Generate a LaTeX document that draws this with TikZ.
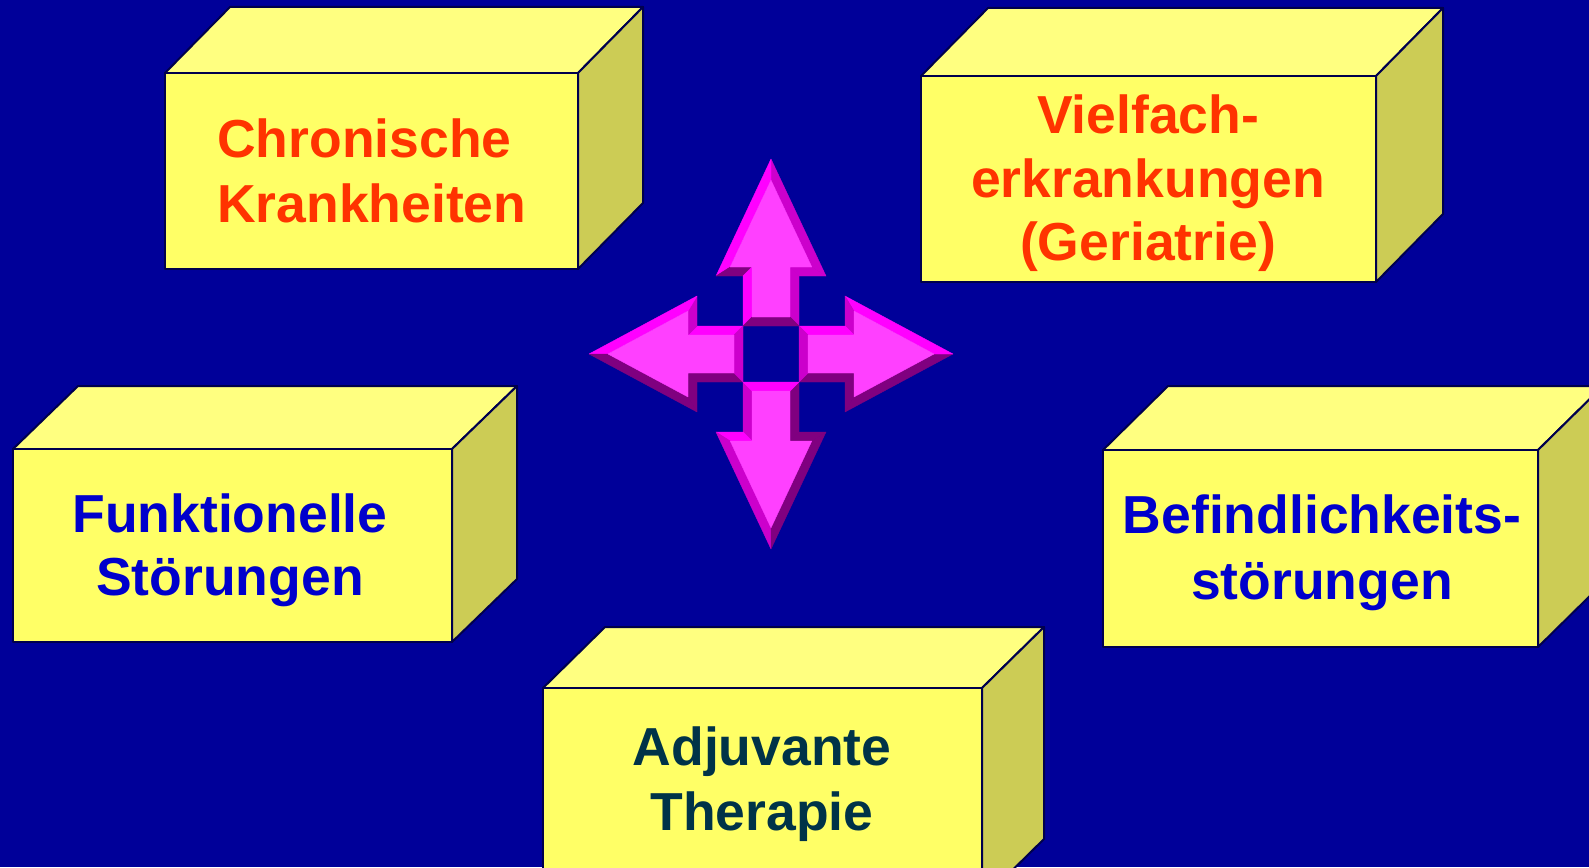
\documentclass[tikz,border=0pt]{standalone}
\usepackage{fontspec}
\setmainfont{Liberation Sans}
\definecolor{bg}{RGB}{0,0,153}
\definecolor{frontf}{RGB}{255,255,102}
\definecolor{topf}{RGB}{255,255,128}
\definecolor{sidef}{RGB}{204,204,85}
\definecolor{edgec}{RGB}{0,0,77}
\definecolor{redt}{RGB}{255,51,0}
\definecolor{bluet}{RGB}{0,0,204}
\definecolor{darkt}{RGB}{0,51,72}
\definecolor{mface}{RGB}{255,64,255}
\definecolor{mbright}{RGB}{255,0,255}
\definecolor{mmed}{RGB}{204,0,204}
\definecolor{mdark}{RGB}{128,0,128}
\tikzset{
  boxline/.style={draw=edgec, line width=2pt, line join=round},
  lbl/.style={font=\fontsize{53.5}{64}\selectfont\bfseries, anchor=base, inner sep=0pt},
  bev/.style={fill=#1, draw=#1, line width=0.4pt, line join=round}
}
% cuboid: left, top, right, bottom (pixel, y down), depth dx, dy
\newcommand\cuboid[6]{%
  \filldraw[boxline, fill=topf] (#1,-#2) -- ({#1+#5},{-#2+#6}) -- ({#3+#5},{-#2+#6}) -- (#3,-#2) -- cycle;
  \filldraw[boxline, fill=sidef] (#3,-#2) -- ({#3+#5},{-#2+#6}) -- ({#3+#5},{-#4+#6}) -- (#3,-#4) -- cycle;
  \filldraw[boxline, fill=frontf] (#1,-#2) rectangle (#3,-#4);
}
\def\aS{28}\def\aSb{19}\def\aSB{37}
\newcommand\magarrow[8]{%
  \begin{scope}[shift={(771,-354)}, rotate=#1]
    \filldraw[bev=#2] (\aS,-\aS) -- (\aHB,-\aS) -- (\aHBb,-\aSb) -- (\aSB,-\aSb) -- cycle;
    \filldraw[bev=#3] (\aHB,-\aS) -- (\aHB,-\aW) -- (\aHBb,-\aQV) -- (\aHBb,-\aSb) -- cycle;
    \filldraw[bev=#4] (\aHB,-\aW) -- (\aT,0) -- (\aQU,0) -- (\aHBb,-\aQV) -- cycle;
    \filldraw[bev=#5] (\aT,0) -- (\aHB,\aW) -- (\aHBb,\aQV) -- (\aQU,0) -- cycle;
    \filldraw[bev=#6] (\aHB,\aW) -- (\aHB,\aS) -- (\aHBb,\aSb) -- (\aHBb,\aQV) -- cycle;
    \filldraw[bev=#7] (\aHB,\aS) -- (\aS,\aS) -- (\aSB,\aSb) -- (\aHBb,\aSb) -- cycle;
    \filldraw[bev=#8] (\aS,\aS) -- (\aS,-\aS) -- (\aSB,-\aSb) -- (\aSB,\aSb) -- cycle;
    \filldraw[bev=mface] (\aSB,-\aSb) -- (\aHBb,-\aSb) -- (\aHBb,-\aQV) -- (\aQU,0) -- (\aHBb,\aQV) -- (\aHBb,\aSb) -- (\aSB,\aSb) -- cycle;
  \end{scope}}
\begin{document}
\begin{tikzpicture}[x=1pt,y=1pt]
\useasboundingbox (0,0) rectangle (1589,-867);
\clip (0,0) rectangle (1589,-867);
\fill[bg] (0,0) rectangle (1589,-867);

% boxes
\cuboid{165}{73}{578}{269}{65}{66}
\cuboid{921}{76}{1376}{282}{67}{68}
\cuboid{13}{449}{452}{642}{65}{63}
\cuboid{1103}{450}{1538}{647}{65}{64}
\cuboid{543}{688}{982}{900}{62}{61}

% labels
\node[lbl, text=redt, anchor=base west] (b1a) at (217,-157) {Chronische};
\node[lbl, text=redt, anchor=base west] (b1b) at (217,-222) {Krankheiten};
\node[lbl, text=redt] (b2a) at (1148,-133) {Vielfach-};
\node[lbl, text=redt] (b2b) at (1148,-197) {erkrankungen};
\node[lbl, text=redt] (b2c) at (1148,-260) {(Geriatrie)};
\node[lbl, text=bluet] (b3a) at (230,-532) {Funktionelle};
\node[lbl, text=bluet] (b3b) at (230,-595) {Störungen};
\node[lbl, text=bluet] (b4a) at (1322,-533) {Befindlichkeits-};
\node[lbl, text=bluet] (b4b) at (1322,-599) {störungen};
\node[lbl, text=darkt] (b5a) at (762,-765) {Adjuvante};
\node[lbl, text=darkt] (b5b) at (762,-830) {Therapie};

% four-way arrow
\def\aHB{78}\def\aHBb{87}\def\aT{195}\def\aW{55}\def\aQV{40.8}\def\aQU{173.8}
\magarrow{90}{mmed}{mmed}{mmed}{mbright}{mdark}{mbright}{mdark}
\magarrow{270}{mmed}{mbright}{mmed}{mdark}{mdark}{mdark}{mbright}
\def\aHB{74}\def\aHBb{83}\def\aT{182}\def\aW{58}\def\aQV{42.95}\def\aQU{163}
\magarrow{180}{mbright}{mmed}{mbright}{mdark}{mdark}{mdark}{mmed}
\magarrow{0}{mdark}{mdark}{mdark}{mbright}{mmed}{mbright}{mmed}
\end{tikzpicture}
\end{document}
